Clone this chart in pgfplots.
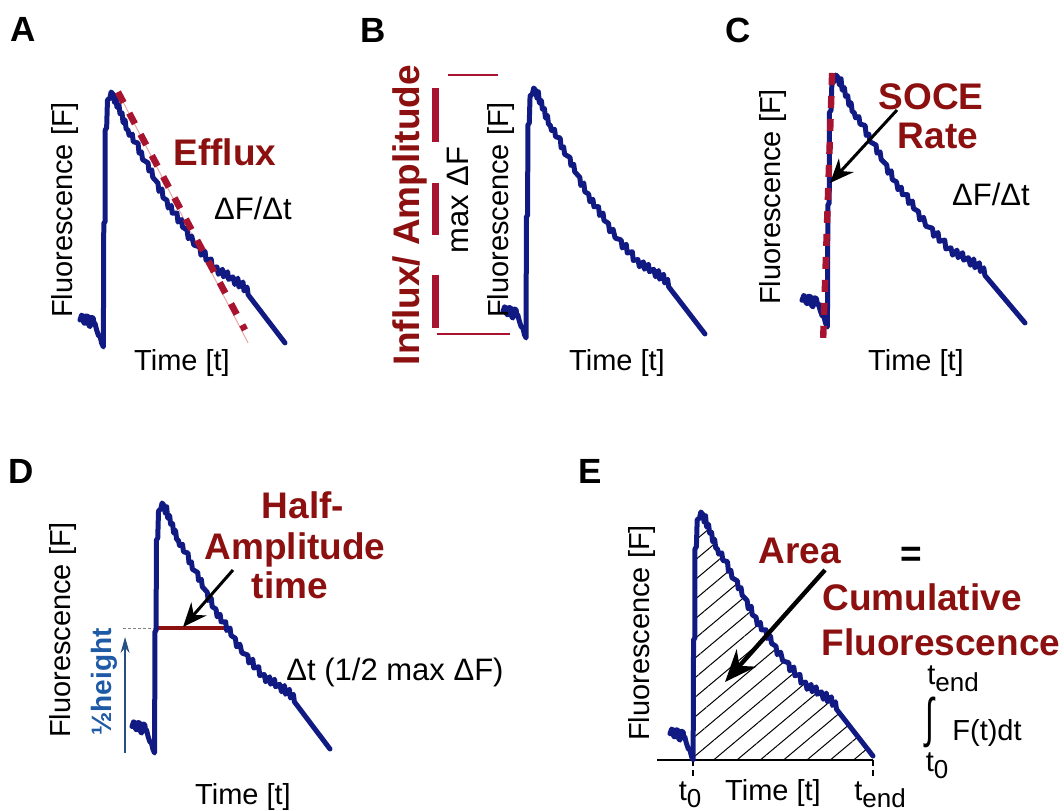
\documentclass[border=0pt]{standalone}
\usepackage{fontspec}
\setmainfont{Liberation Sans}
\usepackage{pgfplots}
\pgfplotsset{compat=1.18}
\usepackage{pgfplotstable}
\usetikzlibrary{arrows.meta,patterns.meta}

\definecolor{navy}{RGB}{16,26,130}
\definecolor{dred}{RGB}{140,16,16}
\definecolor{crim}{RGB}{168,20,48}
\definecolor{pinkl}{RGB}{235,165,165}
\definecolor{hblue}{RGB}{30,90,165}
\definecolor{ablue}{RGB}{40,80,130}

\newcommand\lab{\fontsize{14.5}{17}\selectfont}
\newcommand\labb{\fontsize{15.5}{18}\selectfont}
\newcommand\redf{\fontsize{18.5}{21}\selectfont\bfseries}
\newcommand\pan{\fontsize{17.5}{20}\selectfont\bfseries}

% fluorescence trace, normalised: time 0-100, F 0 (min) - 100 (peak)
\pgfplotstableread{
x y
0 10.6
0.8 12.5
1.6 11.9
1.8 9.5
2.4 9.3
3.0 12.2
4.1 11.9
4.3 8.5
4.9 8.0
5.6 11.6
6.5 11.3
6.8 9.0
7.3 9.3
8.1 6.7
9.0 4.5
9.8 4.1
10.6 1.4
11.4 0
11.6 48.6
12.2 49
12.3 85.1
13.0 86
13.4 96.9
14.5 97.5
15.2 100
16.2 99
16.8 96
17.5 98.5
18.0 94
19.0 95
19.5 91.5
20.5 91.8
21.0 88
22.0 89
22.5 85.5
23.4 85.1
24.0 83
25.5 83.5
26.0 80.5
28.3 80
28.8 76
30.0 76.5
30.5 73.5
33.2 72.2
33.6 69
35.0 69.5
35.5 66.5
38.0 64.3
38.5 61
40.0 62
40.5 58.5
42.4 57.6
43.0 54.5
44.5 55.5
45.0 52.5
47.3 52.5
47.8 49
49.5 50
50.0 47
52.2 45.9
52.8 42.5
54.5 43.5
55.5 40
58.5 39.2
59.0 36
61.0 37.5
61.5 34
64.0 34.5
64.5 31
66.8 31.4
67.5 28.5
69.5 30.5
70.0 27.5
72.0 29.5
72.5 26.5
74.6 27.5
75.5 24.5
77.0 27
77.5 23.5
79.5 25.5
80.0 22
81.5 23.5
82.0 20.5
100 1.6
}\trace

\pgfplotsset{
  panel/.style={hide axis, scale only axis, clip=false, anchor=south west,
    xmin=0, xmax=100, ymin=0, ymax=100},
  trace/.style={navy, line width=2.5pt, line join=round, line cap=round},
}

\begin{document}
\begin{tikzpicture}
\path (0pt,0pt) rectangle (532pt,-404.5pt);

% ---------------- A: efflux
\begin{axis}[panel, at={(40pt,-173.5pt)}, width=102.5pt, height=127.5pt]
  \addplot[pinkl, line width=0.5pt] coordinates {(18.5,100) (82,1.6)};
  \addplot[trace] table {\trace};
  \addplot[crim, line width=3.3pt, dash pattern=on 6pt off 6pt] coordinates {(18.5,100) (80.5,6.7)};
\end{axis}

% ---------------- B: influx / amplitude
\begin{axis}[panel, at={(251.5pt,-169pt)}, width=101pt, height=125pt]
  \addplot[trace] table {\trace};
\end{axis}

% ---------------- C: SOCE rate
\begin{axis}[panel, at={(401pt,-163.5pt)}, width=111.5pt, height=126pt]
  \addplot[trace] table {\trace};
  \addplot[crim, line width=3.2pt, dash pattern=on 6pt off 5.5pt] coordinates {(13.5,100.8) (9.4,-7.1)};
\end{axis}

% ---------------- D: half-amplitude time
\begin{axis}[panel, at={(66pt,-376.5pt)}, width=99pt, height=125pt]
  \addplot[gray, line width=0.5pt, dash pattern=on 1.5pt off 1pt] coordinates {(-4.5,50) (11.5,50)};
  \addplot[ablue, line width=0.6pt, -{Stealth[length=8pt,width=4.5pt]}] coordinates {(-3.5,0) (-3.5,46.4)};
  \addplot[dred, line width=1.8pt] coordinates {(12,50) (48,50)};
  \addplot[trace] table {\trace};
\end{axis}

% ---------------- E: cumulative fluorescence
\begin{axis}[panel, at={(335pt,-380pt)}, width=101.5pt, height=124pt]
  \addplot[draw=none, pattern={Lines[angle=40,distance=7.5pt,line width=0.5pt]},
    restrict x to domain=11.3:100] table {\trace} \closedcycle;
  \addplot[black, line width=0.8pt] coordinates {(-6.4,0) (100,0)};
  \addplot[black, line width=1pt, dash pattern=on 3pt off 2pt] coordinates {(11.4,0) (11.4,-7.3)};
  \addplot[black, line width=1pt, dash pattern=on 3pt off 2pt] coordinates {(100,0) (100,-7.3)};
  \addplot[trace] table {\trace};
\end{axis}

\begin{scope}[x=0.5pt, y=-0.5pt, every node/.style={inner sep=0pt}]
  % panel letters
  \node[font=\pan] at (23,29) {A};
  \node[font=\pan] at (373,30) {B};
  \node[font=\pan] at (738,30) {C};
  \node[font=\pan] at (21,471) {D};
  \node[font=\pan] at (590,471) {E};

  % A
  \node[font=\lab, rotate=90] at (65,210) {Fluorescence [F]};
  \node[font=\lab] at (182,363) {Time [t]};
  \node[font=\redf, text=dred] at (225,152) {Efflux};
  \node[font=\labb] at (253,208) {ΔF/Δt};

  % B
  \draw[crim, line width=3.5pt] (435,88) -- (435,142) (435,183) -- (435,235) (435,275) -- (435,328);
  \draw[crim, line width=1.2pt] (448,75) -- (498,75);
  \draw[crim, line width=1.2pt] (437,334) -- (510,334);
  \node[font=\redf, text=dred, rotate=90] at (410,215) {Influx/ Amplitude};
  \node[font=\labb, rotate=90] at (458,200) {max ΔF};
  \node[font=\lab, rotate=90] at (501,210) {Fluorescence [F]};
  \node[font=\lab] at (617,363) {Time [t]};

  % C
  \node[font=\lab, rotate=90] at (773,197) {Fluorescence [F]};
  \node[font=\lab] at (916,363) {Time [t]};
  \node[font=\redf, text=dred] at (931,97) {SOCE};
  \node[font=\redf, text=dred] at (938,136) {Rate};
  \node[font=\labb] at (991,194) {ΔF/Δt};
  \draw[line width=1.5pt, -{Stealth[length=12pt,width=10pt]}] (897,110) -- (830,183);

  % D
  \node[font=\lab, rotate=90] at (63,630) {Fluorescence [F]};
  \node[font=\lab] at (243,797) {Time [t]};
  \node[font=\fontsize{14}{16}\selectfont\bfseries, text=hblue, rotate=90] at (104,682) {½height};
  \node[font=\redf, text=dred] at (303,505) {Half-};
  \node[font=\redf, text=dred] at (295,550) {Amplitude};
  \node[font=\redf, text=dred] at (290,585) {time};
  \node[font=\labb] at (395,672) {Δt (1/2 max ΔF)};
  \draw[line width=1.5pt, -{Stealth[length=12pt,width=10pt]}] (233,570) -- (183,627);

  % E
  \node[font=\lab, rotate=90] at (642,633) {Fluorescence [F]};
  \node[font=\lab] at (773,793) {Time [t]};
  \node[font=\lab] at (690,795) {t\raisebox{-0.45ex}{\fontsize{13}{13}\selectfont 0}};
  \node[font=\lab] at (880,795) {t\raisebox{-0.45ex}{\fontsize{13}{13}\selectfont end}};
  \node[font=\redf, text=dred] at (800,551) {Area};
  \node[font=\redf] at (911,557) {=};
  \node[font=\redf, text=dred] at (922,597) {Cumulative};
  \node[font=\redf, text=dred] at (941,642) {Fluorescence};
  \draw[line width=2.2pt, -{Stealth[length=16pt,width=13pt]}] (825,570) -- (725,682);
  \node[font=\lab] at (930,722) {\scalebox{1.1}[1.85]{∫}};
  \node[font=\lab] at (953,679) {t\raisebox{-0.45ex}{\fontsize{13}{13}\selectfont end}};
  \node[font=\lab] at (937,766) {t\raisebox{-0.45ex}{\fontsize{13}{13}\selectfont 0}};
  \node[font=\lab] at (987,733) {F(t)dt};
\end{scope}
\end{tikzpicture}
\end{document}
